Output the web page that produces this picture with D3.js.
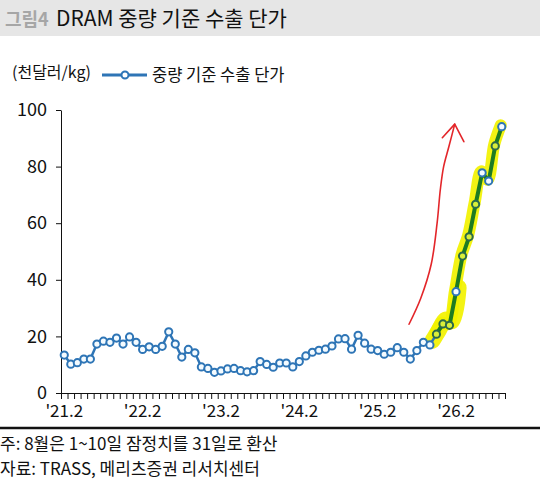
<!DOCTYPE html>
<html>
<head>
<meta charset="utf-8">
<script src="https://cdn.jsdelivr.net/npm/d3@7"></script>
<style>
  body { margin: 0; background: #fff; }
  svg text { font-family: "Noto Sans CJK KR", "Noto Sans", sans-serif; }
</style>
</head>
<body>
<div id="chart"></div>
<script>
// 중량 기준 수출 단가 (천달러/kg), '21.2 부터 월별
var values = [
  13.4, 10.2, 10.7, 12.0, 12.0, 17.3, 18.3, 17.9, 19.4, 17.3, 19.8, 17.9,
  15.4, 16.3, 15.4, 16.5, 21.6, 17.3, 12.7, 15.4, 14.2, 9.2, 8.7, 7.3,
  7.8, 8.5, 8.7, 7.9, 7.5, 7.9, 11.1, 10.1, 9.1, 10.6, 10.6, 9.2,
  11.1, 13.1, 14.4, 15.1, 15.5, 16.6, 19.1, 19.2, 15.5, 20.4, 17.6, 15.5,
  15.0, 13.7, 14.4, 16.0, 14.4, 12.0, 15.0, 17.9, 17.0, 20.8, 24.4, 23.9,
  35.8, 48.4, 55.2, 66.7, 77.8, 74.9, 87.3, 94.1
];
var startYear = 21, startMonth = 2;
var categories = values.map(function(v, i) {
  var m = startMonth - 1 + i;
  return "'" + (startYear + Math.floor(m / 12)) + "." + (m % 12 + 1);
});
var xTickLabels = ["'21.2", "'22.2", "'23.2", "'24.2", "'25.2", "'26.2"];
var yTicks = [0, 20, 40, 60, 80, 100];

// 손으로 그린 표시 (형광펜, 초록 선, 빨간 화살표)
var greenFrom = "'25.11";
var markedPoints = ["'25.11", "'25.12", "'26.1", "'26.3", "'26.4", "'26.5", "'26.8"];
var arrowPath = [[52.8, 24.3], [54.6, 33.5], [56.2, 45.5], [57.1, 60], [57.6, 72], [58.1, 80], [58.9, 87], [59.8, 95]];
var arrowHead = [[57.9, 90.2], [59.8, 95], [61.2, 88.8]];

var W = 540, H = 481;
var svg = d3.select("#chart").append("svg").attr("width", W).attr("height", H);

// title bar
svg.append("rect").attr("x", 0).attr("y", 0).attr("width", W).attr("height", 36).attr("fill", "#e6e6e6");
svg.append("text").attr("x", 5).attr("y", 26).attr("font-size", 18).attr("font-weight", "bold")
  .attr("fill", "#a6a6a6").text("그림4");
svg.append("text").attr("x", 56).attr("y", 26).attr("font-size", 21).attr("fill", "#111")
  .text("DRAM 중량 기준 수출 단가");

// unit + legend
svg.append("text").attr("x", 12).attr("y", 78).attr("font-size", 16).attr("fill", "#111").text("(천달러/kg)");
svg.append("line").attr("x1", 102).attr("x2", 147).attr("y1", 75).attr("y2", 75)
  .attr("stroke", "#2e75b6").attr("stroke-width", 3);
svg.append("circle").attr("cx", 125).attr("cy", 75).attr("r", 3.5)
  .attr("fill", "#fff").attr("stroke", "#2e75b6").attr("stroke-width", 2);
svg.append("text").attr("x", 152).attr("y", 81).attr("font-size", 16.5).attr("fill", "#111").text("중량 기준 수출 단가");

var x = d3.scaleBand().domain(categories).range([61, 505]).padding(0);
var xEdge = d3.scaleLinear().domain([0, categories.length]).range([61, 505]);
var y = d3.scaleLinear().domain([0, 100]).range([393, 110]);
var cx = function(c) { return x(c) + x.bandwidth() / 2; };
// annotation coordinates in (category index, value) units
var ax = function(i) { return xEdge(i + 0.5); };

// y axis
var yAxis = svg.append("g").attr("transform", "translate(61,0)")
  .call(d3.axisLeft(y).tickValues(yTicks).tickSize(5).tickPadding(9).tickSizeOuter(0));
yAxis.selectAll("text").attr("font-size", 18).attr("fill", "#111");
yAxis.selectAll("line, path").attr("stroke", "#111");

// x axis
var xAxis = svg.append("g").attr("transform", "translate(0,393)")
  .call(d3.axisBottom(xEdge).tickValues(d3.range(categories.length + 1)).tickSize(6).tickFormat("").tickSizeOuter(0));
xAxis.selectAll("line, path").attr("stroke", "#111");
svg.append("g").selectAll("text").data(xTickLabels).join("text")
  .attr("x", function(d) { return cx(d); }).attr("y", 417)
  .attr("text-anchor", "middle").attr("font-size", 17).attr("fill", "#111")
  .text(function(d) { return d; });

var pts = categories.map(function(c, i) { return { c: c, v: values[i], i: i }; });
var gi = categories.indexOf(greenFrom);

// highlighter
var hl = d3.line().x(function(d) { return ax(d[0]); }).y(function(d) { return y(d[1]); }).curve(d3.curveCatmullRom);
var hlPts = pts.slice(gi).map(function(p) { return [p.i - 0.15, p.v + 0.5]; });
svg.append("path").attr("d", hl(hlPts)).attr("fill", "none")
  .attr("stroke", "#f2f200").attr("stroke-width", 12).attr("stroke-linecap", "round").attr("opacity", 0.92);
svg.append("path").attr("d", hl(pts.slice(gi - 1, gi + 4).map(function(p) { return [p.i + 0.4, p.v + 1.5]; })))
  .attr("fill", "none").attr("stroke", "#f2f200").attr("stroke-width", 16).attr("stroke-linecap", "round").attr("opacity", 0.92);

// data line
var line = d3.line().x(function(d) { return cx(d.c); }).y(function(d) { return y(d.v); });
svg.append("path").datum(pts.slice(0, gi + 1)).attr("d", line).attr("fill", "none")
  .attr("stroke", "#2e75b6").attr("stroke-width", 2.5);
svg.append("path").datum(pts.slice(gi)).attr("d", line).attr("fill", "none")
  .attr("stroke", "#1e7b22").attr("stroke-width", 4).attr("stroke-linejoin", "round");

// markers
svg.append("g").selectAll("circle").data(pts).join("circle")
  .attr("cx", function(d) { return cx(d.c); }).attr("cy", function(d) { return y(d.v); }).attr("r", 3.6)
  .attr("fill", function(d) { return markedPoints.indexOf(d.c) >= 0 ? "#d8ef3a" : "#f4fbff"; })
  .attr("stroke", function(d) { return markedPoints.indexOf(d.c) >= 0 ? "#2b6a4a" : "#2e75b6"; })
  .attr("stroke-width", 2);

// red arrow
var ar = d3.line().x(function(d) { return ax(d[0]); }).y(function(d) { return y(d[1]); });
svg.append("path").attr("d", ar.curve(d3.curveCatmullRom)(arrowPath)).attr("fill", "none")
  .attr("stroke", "#e3262a").attr("stroke-width", 1.6).attr("stroke-linecap", "round");
svg.append("path").attr("d", d3.line().x(function(d) { return ax(d[0]); }).y(function(d) { return y(d[1]); })(arrowHead))
  .attr("fill", "none").attr("stroke", "#e3262a").attr("stroke-width", 1.6)
  .attr("stroke-linecap", "round").attr("stroke-linejoin", "round");

// footer
svg.append("line").attr("x1", 0).attr("x2", W).attr("y1", 428).attr("y2", 428)
  .attr("stroke", "#111").attr("stroke-width", 2.5);
svg.append("text").attr("x", 0).attr("y", 450).attr("font-size", 17).attr("fill", "#111")
  .text("주: 8월은 1~10일 잠정치를 31일로 환산");
svg.append("text").attr("x", 0).attr("y", 475).attr("font-size", 17).attr("fill", "#111")
  .text("자료: TRASS, 메리츠증권 리서치센터");
</script>
</body>
</html>
